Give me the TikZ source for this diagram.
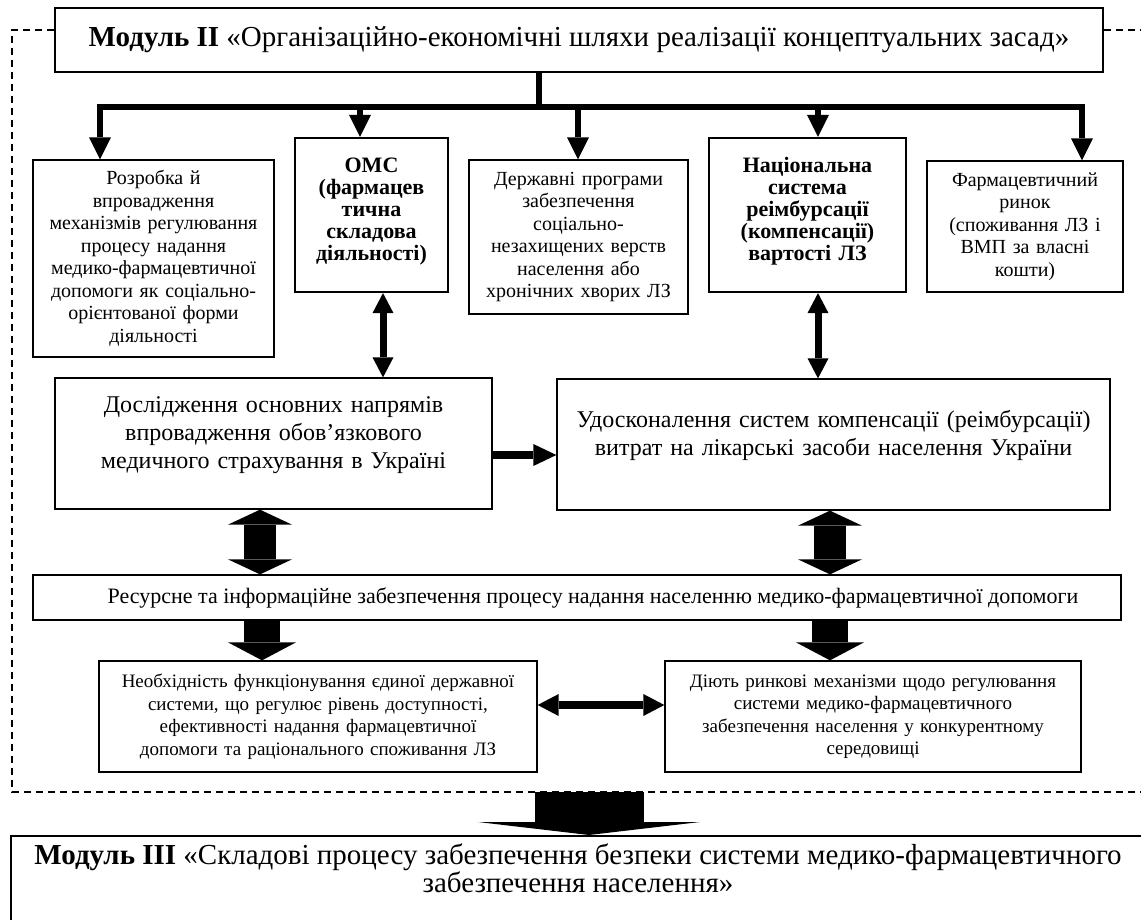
\documentclass[tikz,border=0pt]{standalone}
\usepackage{fontspec}
\setmainfont{Liberation Serif}
\usetikzlibrary{arrows.meta}
\begin{document}
\begin{tikzpicture}[x=1pt,y=-1pt,
  box/.style={draw, line width=1.3pt, inner sep=0pt, align=center},
  bbox/.style={draw, line width=2.2pt, inner sep=0pt, align=center},
  rowf/.style={font=\fontsize{20pt}{22.5pt}\selectfont},
  boldf/.style={font=\bfseries\fontsize{22pt}{22pt}\selectfont},
  midf/.style={font=\fontsize{24pt}{28pt}\selectfont},
  lowf/.style={font=\fontsize{19pt}{22.5pt}\selectfont},
  headf/.style={font=\fontsize{29pt}{27pt}\selectfont},
  thinarr/.style={line width=6pt, -{Triangle[length=22pt,width=22pt,line width=0pt]}},
  thindbl/.style={line width=7pt, {Triangle[length=20pt,width=21pt,line width=0pt]}-{Triangle[length=20pt,width=21pt,line width=0pt]}},
  fatdbl/.style={line width=32pt, {Triangle[length=15pt,width=64pt,line width=0pt]}-{Triangle[length=15pt,width=64pt,line width=0pt]}},
  fatarr/.style={line width=36pt, -{Triangle[length=18pt,width=68pt,line width=0pt]}},
  frame/.style={line width=1.4pt, dash pattern=on 7pt off 5pt}
]
\useasboundingbox (0,0) rectangle (1141,919);
\clip (0,0) rectangle (1141,919);
\fill[white] (0,0) rectangle (1141,919);

% top module
\node[draw, line width=1.8pt, inner sep=0pt, minimum width=1048pt, minimum height=64pt, headf] (top) at (579,40)
  {\textbf{Модуль II} «Організаційно-економічні шляхи реалізації концептуальних засад»};

% dashed frame
\coordinate (fl) at (12,30);
\coordinate (fb) at (12,792);
\coordinate (fr) at (1141,792);
\coordinate (ftr) at (1141,30);
\draw[frame] (top.west |- fl) -- (fl) -- (fb) -- (fr);
\draw[frame] (top.east |- ftr) -- (ftr);

% row 1 boxes
\node[box, rowf, minimum width=241pt, minimum height=197pt, text width=237pt] (b1) at (153.5,258.5)
  {Розробка й\\впровадження\\механізмів регулювання\\процесу надання\\медико-фармацевтичної\\допомоги як соціально-\\орієнтованої форми\\діяльності};
\node[bbox, boldf, minimum width=153pt, minimum height=154pt, text width=149pt, text depth=100pt] (omc) at (371.5,215)
  {ОМС\\(фармацев\\тична\\складова\\діяльності)};
\node[box, rowf, minimum width=219pt, minimum height=154pt, text width=215pt] (b3) at (578.5,237)
  {Державні програми\\забезпечення\\соціально-\\незахищених верств\\населення або\\хронічних хворих ЛЗ};
\node[bbox, boldf, minimum width=197pt, minimum height=154pt, text width=193pt, text depth=100pt] (nat) at (807.5,215)
  {Національна\\система\\реімбурсації\\(компенсації)\\вартості ЛЗ};
\node[box, rowf, minimum width=196pt, minimum height=131pt, text width=192pt] (b5) at (1025,226.5)
  {Фармацевтичний\\ринок\\(споживання ЛЗ і\\ВМП за власні\\кошти)};

% bus
\coordinate (js) at (539,107);
\coordinate (j1) at (100,107);
\coordinate (j2) at (360,107);
\coordinate (j3) at (578,107);
\coordinate (j4) at (818,107);
\coordinate (j5) at (1082,107);
\draw[line width=6pt] (top.south -| js) -- (js);
\draw[line width=6pt, {Triangle[length=22pt,width=22pt,line width=0pt]}-{Triangle[length=22pt,width=22pt,line width=0pt]}]
  (b1.north -| j1) -- (j1) -- (j5) -- (b5.north -| j5);
\draw[thinarr] (j2) -- (omc.north -| j2);
\draw[thinarr] (j3) -- (b3.north -| j3);
\draw[thinarr] (j4) -- (nat.north -| j4);

% middle boxes
\node[box, midf, minimum width=437pt, minimum height=131pt, text width=433pt, text depth=78pt] (dosl) at (273.5,443.5)
  {Дослідження основних напрямів\\впровадження обов’язкового\\медичного страхування в Україні};
\node[box, midf, minimum width=553pt, minimum height=131pt, text width=549pt, text depth=52pt] (udos) at (833.5,444.5)
  {Удосконалення систем компенсації (реімбурсації)\\витрат на лікарські засоби населення України};

\coordinate (x1) at (383,0);
\coordinate (x2) at (818,0);
\draw[thindbl] (omc.south -| x1) -- (dosl.north -| x1);
\draw[thindbl] (nat.south -| x2) -- (udos.north -| x2);
\coordinate (y1) at (0,455);
\draw[line width=8pt, -{Triangle[length=23pt,width=22pt,line width=0pt]}] (dosl.east |- y1) -- (udos.west |- y1);

% resources bar
\node[draw, line width=1.3pt, inner sep=0pt, minimum width=1088pt, minimum height=45pt] (res) at (577,597.5) {};
\node[font=\fontsize{22pt}{24pt}\selectfont, inner sep=0pt] (rest) at (593,597.5)
  {Ресурсне та інформаційне забезпечення процесу надання населенню медико-фармацевтичної допомоги};

\coordinate (x3) at (260,0);
\coordinate (x4) at (830,0);
\draw[fatdbl] (dosl.south -| x3) -- (res.north -| x3);
\draw[fatdbl] (udos.south -| x4) -- (res.north -| x4);

% lower boxes
\node[box, lowf, minimum width=438pt, minimum height=111pt, text width=434pt] (neo) at (318,716.5)
  {Необхідність функціонування єдиної державної\\системи, що регулює рівень доступності,\\ефективності надання фармацевтичної\\допомоги та раціонального споживання ЛЗ};
\node[box, lowf, minimum width=416pt, minimum height=111pt, text width=412pt] (diut) at (873,716.5)
  {Діють ринкові механізми щодо регулювання\\системи медико-фармацевтичного\\забезпечення населення у конкурентному\\середовищі};

\coordinate (x5) at (262,0);
\draw[fatarr] (res.south -| x5) -- (neo.north -| x5);
\draw[fatarr] (res.south -| x4) -- (diut.north -| x4);
\coordinate (y2) at (0,705);
\draw[line width=8pt, {Triangle[length=21pt,width=22pt,line width=0pt]}-{Triangle[length=21pt,width=22pt,line width=0pt]}]
  (neo.east |- y2) -- (diut.west |- y2);

% module III
\node[draw, line width=1.8pt, inner sep=0pt, minimum width=1134pt, minimum height=110pt, anchor=north] (m3) at (578,835) {};
\node[headf, align=center, inner sep=0pt] (m3t) at (578,868)
  {\textbf{Модуль III} «Складові процесу забезпечення безпеки системи медико-фармацевтичного\\забезпечення населення»};
\coordinate (bx) at (589,0);
\draw[line width=109pt, -{Triangle[length=13pt,width=222pt,line width=0pt]}] (fb -| bx) -- (m3.north -| bx);
\end{tikzpicture}
\end{document}
